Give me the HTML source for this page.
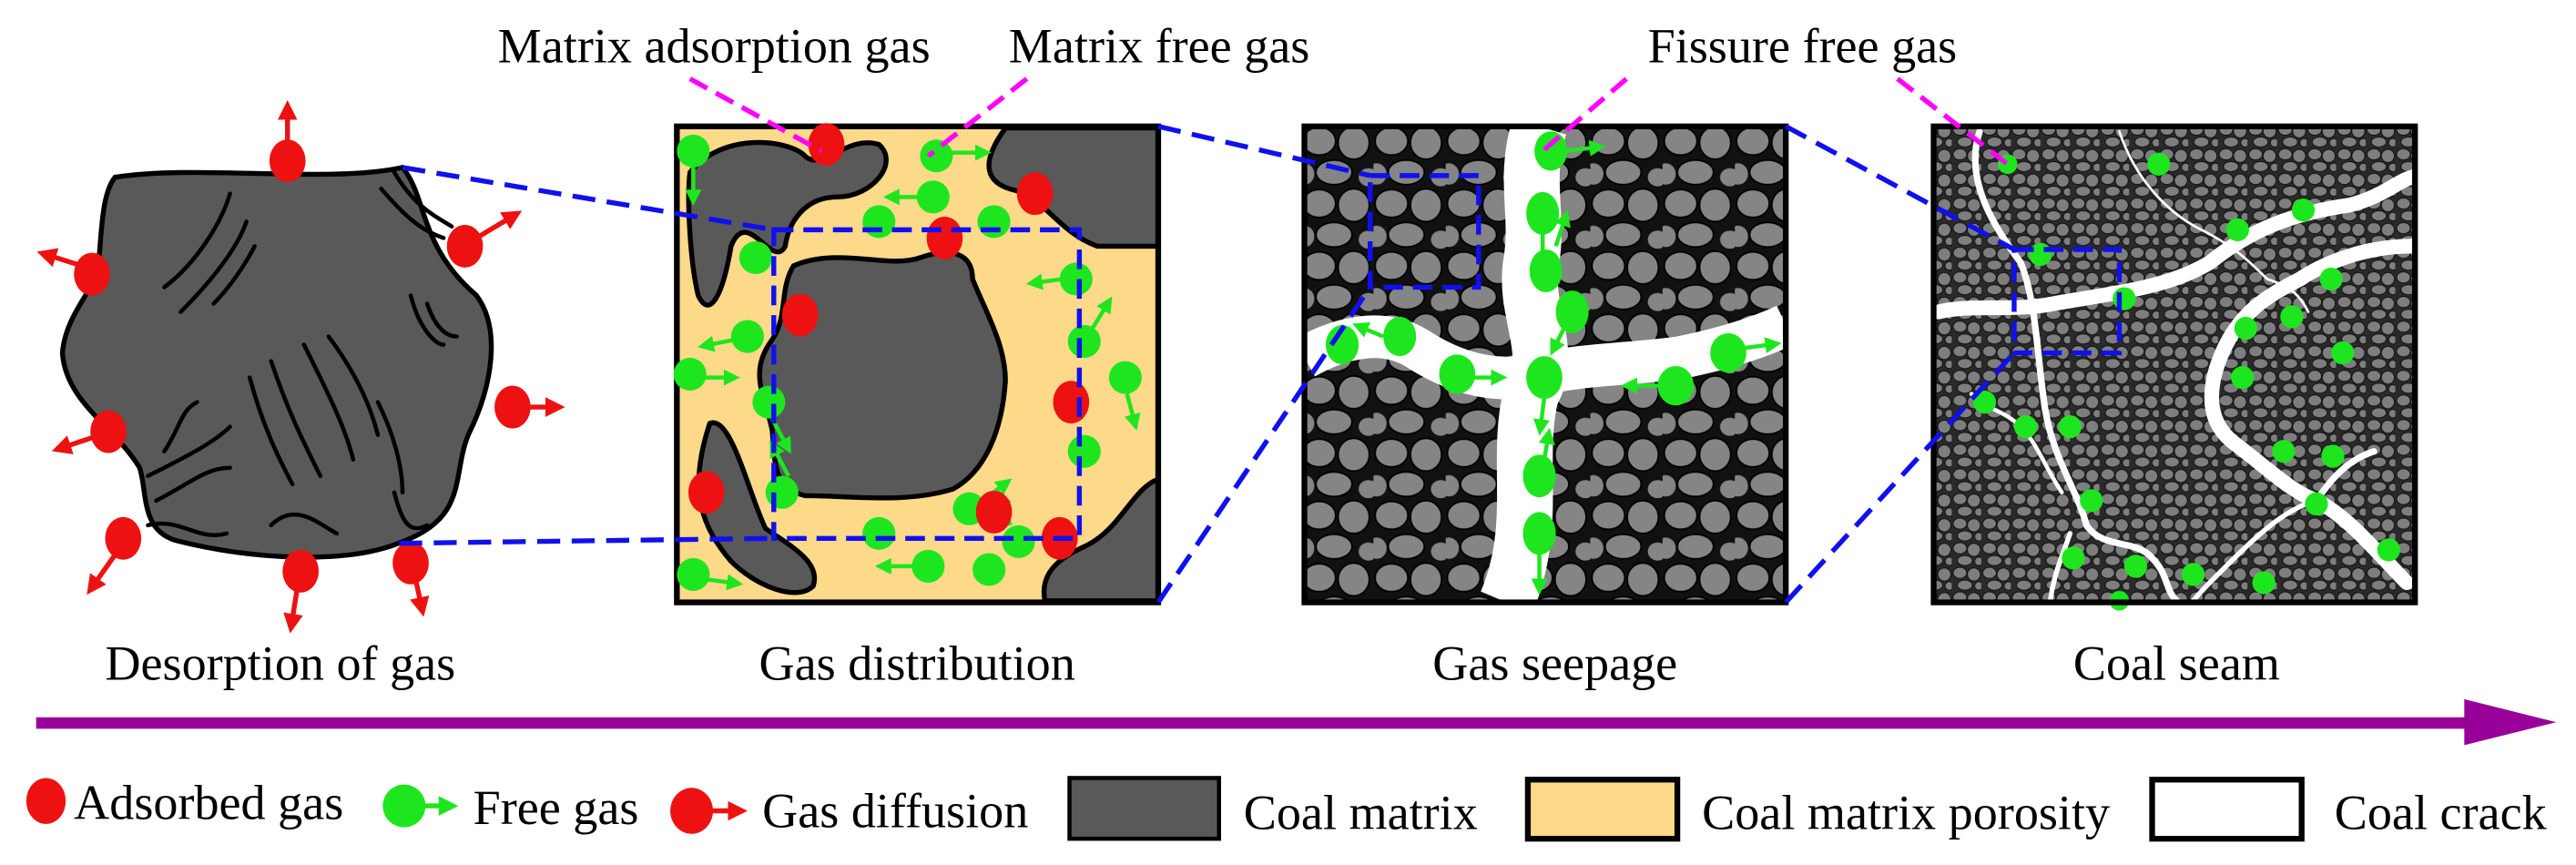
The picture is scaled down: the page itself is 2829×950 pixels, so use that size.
<!DOCTYPE html>
<html><head><meta charset="utf-8"><style>
html,body{margin:0;padding:0;background:#fff;}
svg{display:block;}
.t{font-family:'Liberation Serif','Times New Roman',Times,serif;font-size:30px;fill:#000;}
</style></head><body>
<svg width="2829" height="950" viewBox="0 0 1568 527" preserveAspectRatio="none" xmlns="http://www.w3.org/2000/svg">
<defs>
<marker id="ga" markerWidth="4" markerHeight="4" refX="1" refY="2" orient="auto" markerUnits="strokeWidth"><path d="M0,0 L4,2 L0,4 Z" fill="#1ee61e"/></marker>
<marker id="ra" markerWidth="4" markerHeight="4" refX="1" refY="2" orient="auto" markerUnits="strokeWidth"><path d="M0,0 L4,2 L0,4 Z" fill="#ee1111"/></marker>
<pattern id="p3" width="44" height="38" patternUnits="userSpaceOnUse">
<rect width="44" height="38" fill="#111"/>
<ellipse cx="11" cy="10" rx="10" ry="8.5" fill="#858585" stroke="#000" stroke-width="1"/>
<ellipse cx="32" cy="11" rx="9.5" ry="10" fill="#858585" stroke="#000" stroke-width="1"/>
<ellipse cx="20" cy="29" rx="11" ry="7.5" fill="#858585" stroke="#000" stroke-width="1"/>
<ellipse cx="41" cy="32" rx="6" ry="5.5" fill="#858585"/>
<ellipse cx="2" cy="30" rx="6" ry="6.5" fill="#858585"/>
</pattern>
<pattern id="p4" width="18" height="15" patternUnits="userSpaceOnUse">
<rect width="18" height="15" fill="#2a2a2a"/>
<ellipse cx="5" cy="4" rx="4.2" ry="3.4" fill="#7e7e7e" stroke="#111" stroke-width="0.6"/>
<ellipse cx="13.5" cy="5" rx="4" ry="4" fill="#7e7e7e" stroke="#111" stroke-width="0.6"/>
<ellipse cx="8" cy="11.5" rx="4.6" ry="3.1" fill="#7e7e7e" stroke="#111" stroke-width="0.6"/>
<ellipse cx="16.5" cy="12" rx="2.6" ry="2.6" fill="#7e7e7e" stroke="#111" stroke-width="0.6"/>
</pattern>
</defs>

<text class="t" x="303" y="38">Matrix adsorption gas</text>
<text class="t" x="614" y="38">Matrix free gas</text>
<text class="t" x="1003" y="38">Fissure free gas</text>
<text class="t" x="64" y="414">Desorption of gas</text>
<text class="t" x="462" y="414">Gas distribution</text>
<text class="t" x="872" y="414">Gas seepage</text>
<text class="t" x="1262" y="414">Coal seam</text>
<text class="t" x="45" y="499">Adsorbed gas</text>
<text class="t" x="288" y="502">Free gas</text>
<text class="t" x="464" y="504">Gas diffusion</text>
<text class="t" x="757" y="505">Coal matrix</text>
<text class="t" x="1036" y="505">Coal matrix porosity</text>
<text class="t" x="1421" y="505">Coal crack</text>

<!-- Panel 1 blob -->
<path d="M70,108 C120,100 200,112 245,102 C260,120 255,150 290,180 C305,200 300,235 285,265 C275,290 285,315 245,330 C210,345 150,340 110,330 C85,325 90,300 85,285 C70,260 40,245 38,215 C40,190 60,175 60,160 C62,140 62,118 70,108 Z" fill="#595959" stroke="#000" stroke-width="3"/>
<g fill="none" stroke="#000" stroke-width="2.5" stroke-linecap="round">
<path d="M100,175 C120,160 135,135 140,118"/><path d="M110,190 C130,170 145,150 150,135"/>
<path d="M130,185 C140,175 150,160 155,150"/><path d="M232,115 C245,130 255,140 270,145"/>
<path d="M240,105 C252,125 262,130 275,138"/><path d="M250,180 C255,200 265,210 270,210"/>
<path d="M260,185 C265,200 272,205 278,205"/><path d="M152,230 C160,260 170,280 178,295"/>
<path d="M165,220 C175,250 185,270 195,290"/><path d="M185,210 C200,240 210,260 215,280"/>
<path d="M200,205 C215,225 225,245 230,265"/><path d="M230,245 C240,265 245,285 245,300"/>
<path d="M90,290 C110,280 130,270 140,260"/><path d="M95,305 C115,295 125,285 140,285"/>
<path d="M90,320 C110,315 120,330 138,325"/><path d="M165,320 C180,305 195,320 205,325"/>
<path d="M240,300 C245,320 250,325 260,320"/><path d="M100,275 C110,260 110,250 120,245"/>
</g>
<g fill="#ee1111">
<ellipse cx="175" cy="98" rx="11" ry="13"/><ellipse cx="283" cy="150" rx="11" ry="13"/>
<ellipse cx="56" cy="167" rx="11" ry="13"/><ellipse cx="312" cy="248" rx="11" ry="13"/>
<ellipse cx="66" cy="263" rx="11" ry="13"/><ellipse cx="75" cy="328" rx="11" ry="13"/>
<ellipse cx="183" cy="348" rx="11" ry="13"/><ellipse cx="250" cy="343" rx="11" ry="13"/>
</g>
<g stroke="#ee1111" stroke-width="3" marker-end="url(#ra)">
<line x1="175" y1="88" x2="175" y2="70"/><line x1="290" y1="145" x2="310" y2="133"/>
<line x1="50" y1="162" x2="31" y2="156"/><line x1="320" y1="248" x2="335" y2="248"/>
<line x1="58" y1="266" x2="40" y2="272"/><line x1="70" y1="338" x2="58" y2="355"/>
<line x1="181" y1="358" x2="178" y2="377"/><line x1="253" y1="353" x2="256" y2="367"/>
</g>

<!-- Panel 2 -->
<rect x="412" y="77" width="293" height="290" fill="#fdd98a"/>
<g fill="#595959" stroke="#000" stroke-width="3">
<path d="M420,105 C440,80 480,85 490,95 C500,105 515,82 535,88 C548,100 530,120 510,120 C490,120 480,135 478,150 C470,165 455,125 445,150 C440,180 432,195 425,180 C420,160 418,120 420,105 Z"/>
<path d="M612,78 L705,78 L705,150 L668,150 C645,142 635,120 618,116 C600,112 596,100 612,78 Z"/>
<path d="M483,162 C510,150 540,164 560,157 C580,150 592,155 592,170 C600,190 612,210 612,232 C610,262 600,287 580,298 C550,307 520,302 490,302 C470,297 472,282 470,262 C466,242 455,227 470,207 C480,192 474,177 483,162 Z"/>
<path d="M432,258 C445,252 456,302 466,322 C480,332 500,342 495,357 C485,367 460,357 445,342 C428,322 418,300 432,258 Z"/>
<path d="M705,292 L705,366 L636,366 C632,345 652,337 662,332 C682,322 690,297 705,292 Z"/>
</g>
<rect x="412" y="77" width="293" height="290" fill="none" stroke="#000" stroke-width="3.5"/>
<g fill="#1ee61e">
<circle cx="422" cy="92" r="10"/><circle cx="570" cy="95" r="10"/><circle cx="568" cy="120" r="10"/>
<circle cx="535" cy="135" r="10"/><circle cx="605" cy="135" r="10"/><circle cx="460" cy="157" r="10"/>
<circle cx="655" cy="170" r="10"/><circle cx="455" cy="205" r="10"/><circle cx="420" cy="228" r="10"/>
<circle cx="660" cy="208" r="10"/><circle cx="685" cy="230" r="10"/><circle cx="468" cy="245" r="10"/>
<circle cx="660" cy="275" r="10"/><circle cx="476" cy="300" r="10"/><circle cx="535" cy="325" r="10"/>
<circle cx="565" cy="345" r="10"/><circle cx="620" cy="330" r="10"/><circle cx="602" cy="347" r="10"/>
<circle cx="422" cy="350" r="10"/><circle cx="590" cy="310" r="10"/>
</g>
<g stroke="#1ee61e" stroke-width="2.5" marker-end="url(#ga)">
<line x1="422" y1="100" x2="422" y2="118"/><line x1="578" y1="93" x2="596" y2="93"/>
<line x1="560" y1="120" x2="545" y2="120"/><line x1="647" y1="170" x2="632" y2="172"/>
<line x1="447" y1="207" x2="432" y2="210"/><line x1="428" y1="230" x2="443" y2="230"/>
<line x1="665" y1="200" x2="673" y2="187"/><line x1="686" y1="240" x2="690" y2="255"/>
<line x1="556" y1="345" x2="540" y2="345"/><line x1="430" y1="353" x2="445" y2="355"/>
<line x1="470" y1="255" x2="478" y2="270"/><line x1="480" y1="290" x2="472" y2="275"/>
<line x1="598" y1="305" x2="610" y2="296"/><line x1="615" y1="320" x2="610" y2="305"/>
</g>
<g fill="#ee1111">
<ellipse cx="503" cy="88" rx="11" ry="13"/><ellipse cx="630" cy="118" rx="11" ry="13"/>
<ellipse cx="575" cy="145" rx="11" ry="13"/><ellipse cx="487" cy="192" rx="11" ry="13"/>
<ellipse cx="652" cy="245" rx="11" ry="13"/><ellipse cx="430" cy="300" rx="11" ry="13"/>
<ellipse cx="605" cy="312" rx="11" ry="13"/><ellipse cx="645" cy="328" rx="11" ry="13"/>
</g>
<rect x="471" y="140" width="186" height="188" fill="none" stroke="#1010ee" stroke-width="3" stroke-dasharray="12,6"/>

<!-- Panel 3 -->
<rect x="794" y="77" width="293" height="290" fill="url(#p3)"/>
<g fill="none" stroke="#fff" stroke-linecap="butt">
<path d="M937,77 C927,110 937,130 932,160 C927,190 947,215 932,240 C922,280 937,320 917,367" stroke-width="34"/>
<path d="M794,218 C817,205 842,200 862,212 C882,225 907,235 937,228 C962,222 992,222 1022,218 C1052,212 1072,205 1087,198" stroke-width="26"/>
</g>
<g fill="#1ee61e">
<ellipse cx="944" cy="92" rx="10" ry="12"/><ellipse cx="939" cy="130" rx="10" ry="13"/><ellipse cx="941" cy="165" rx="10" ry="13"/>
<ellipse cx="957" cy="190" rx="10" ry="13"/><ellipse cx="817" cy="210" rx="10" ry="12"/><ellipse cx="852" cy="205" rx="10" ry="12"/>
<ellipse cx="887" cy="228" rx="11" ry="12"/><ellipse cx="940" cy="230" rx="11" ry="13"/><ellipse cx="1020" cy="235" rx="11" ry="12"/>
<ellipse cx="1052" cy="215" rx="11" ry="12"/><ellipse cx="937" cy="290" rx="10" ry="13"/><ellipse cx="937" cy="325" rx="10" ry="13"/>
</g>
<g stroke="#1ee61e" stroke-width="2.5" marker-end="url(#ga)">
<line x1="952" y1="92" x2="970" y2="90"/><line x1="939" y1="142" x2="939" y2="160"/><line x1="947" y1="150" x2="952" y2="135"/>
<line x1="952" y1="200" x2="947" y2="210"/><line x1="895" y1="230" x2="910" y2="230"/><line x1="940" y1="242" x2="938" y2="258"/>
<line x1="1010" y1="235" x2="994" y2="235"/><line x1="1062" y1="212" x2="1077" y2="210"/><line x1="937" y1="337" x2="937" y2="355"/>
<line x1="940" y1="280" x2="942" y2="268"/><line x1="842" y1="205" x2="830" y2="200"/>
</g>
<rect x="794" y="77" width="293" height="290" fill="none" stroke="#000" stroke-width="3.5"/>
<rect x="834" y="107" width="66" height="68" fill="none" stroke="#1010ee" stroke-width="3" stroke-dasharray="12,6"/>

<!-- Panel 4 -->
<rect x="1177" y="77" width="293" height="290" fill="url(#p4)"/>
<g fill="none" stroke="#fff" stroke-linecap="round">
<path d="M1205,80 C1195,110 1215,140 1230,160 C1240,185 1240,220 1245,250 C1250,280 1265,300 1270,320" stroke-width="4"/>
<path d="M1180,190 C1200,185 1225,190 1250,185 C1290,178 1320,175 1345,160 C1370,140 1395,130 1430,125 C1450,120 1460,110 1468,108" stroke-width="9"/>
<path d="M1468,150 C1440,150 1415,160 1400,170 C1380,180 1365,190 1355,210 C1345,230 1340,255 1360,270 C1380,285 1395,300 1410,305 C1430,315 1450,340 1465,355" stroke-width="9"/>
<path d="M1270,320 C1280,335 1300,328 1310,340 C1320,350 1318,360 1325,366" stroke-width="4"/>
<path d="M1260,325 C1255,340 1250,350 1248,366" stroke-width="3"/>
<path d="M1410,305 C1390,310 1370,330 1355,345 C1345,355 1340,360 1335,366" stroke-width="3"/>
<path d="M1410,305 C1420,290 1430,280 1445,275" stroke-width="4"/>
<path d="M1290,80 C1300,110 1320,130 1340,140 C1360,150 1370,160 1380,170 C1395,175 1400,180 1405,190" stroke-width="1.5"/>
<path d="M1200,240 C1210,250 1220,250 1230,260 C1240,270 1245,285 1255,300" stroke-width="2.5"/>
</g>
<g fill="#1ee61e">
<circle cx="1222" cy="100" r="6"/><circle cx="1314" cy="100" r="7"/><circle cx="1242" cy="155" r="7"/>
<circle cx="1293" cy="182" r="7"/><circle cx="1362" cy="140" r="7"/><circle cx="1402" cy="128" r="7"/>
<circle cx="1419" cy="170" r="7"/><circle cx="1367" cy="200" r="7"/><circle cx="1395" cy="193" r="7"/>
<circle cx="1426" cy="215" r="7"/><circle cx="1365" cy="230" r="7"/><circle cx="1208" cy="245" r="7"/>
<circle cx="1233" cy="260" r="7"/><circle cx="1260" cy="260" r="7"/><circle cx="1390" cy="275" r="7"/>
<circle cx="1420" cy="278" r="7"/><circle cx="1410" cy="307" r="7"/><circle cx="1273" cy="305" r="7"/>
<circle cx="1262" cy="340" r="7"/><circle cx="1300" cy="345" r="7"/><circle cx="1335" cy="350" r="7"/>
<circle cx="1290" cy="366" r="6"/><circle cx="1378" cy="355" r="7"/><circle cx="1454" cy="335" r="7"/>
</g>
<rect x="1177" y="77" width="293" height="290" fill="none" stroke="#000" stroke-width="3.5"/>
<rect x="1226" y="152" width="64" height="63" fill="none" stroke="#1010ee" stroke-width="3" stroke-dasharray="12,6"/>

<g stroke="#1010ee" stroke-width="3" stroke-dasharray="14,7" fill="none">
<line x1="245" y1="102" x2="471" y2="140"/><line x1="243" y1="331" x2="471" y2="328"/>
<line x1="705" y1="77" x2="834" y2="107"/><line x1="705" y1="367" x2="834" y2="175"/>
<line x1="1087" y1="77" x2="1226" y2="152"/><line x1="1087" y1="367" x2="1226" y2="215"/>
</g>
<g stroke="#ff00ff" stroke-width="3" stroke-dasharray="12,6" fill="none">
<line x1="420" y1="48" x2="500" y2="92"/><line x1="625" y1="48" x2="565" y2="95"/>
<line x1="990" y1="48" x2="939" y2="92"/><line x1="1155" y1="48" x2="1222" y2="100"/>
</g>

<rect x="22" y="437" width="1483" height="7" fill="#990099"/>
<polygon points="1500,426 1556,440 1500,454" fill="#990099"/>

<ellipse cx="28" cy="488" rx="12" ry="14" fill="#ee1111"/>
<circle cx="246" cy="491" r="13" fill="#1ee61e"/>
<line x1="255" y1="491" x2="270" y2="491" stroke="#1ee61e" stroke-width="3" marker-end="url(#ga)"/>
<ellipse cx="421" cy="494" rx="13" ry="14" fill="#ee1111"/>
<line x1="430" y1="494" x2="446" y2="494" stroke="#ee1111" stroke-width="3" marker-end="url(#ra)"/>
<rect x="651" y="474" width="91" height="37" fill="#595959" stroke="#000" stroke-width="2.5"/>
<rect x="930" y="475" width="91" height="36" fill="#fdd98a" stroke="#000" stroke-width="3.5"/>
<rect x="1310" y="475" width="91" height="36" fill="#fff" stroke="#000" stroke-width="3.5"/>
</svg>
</body></html>
